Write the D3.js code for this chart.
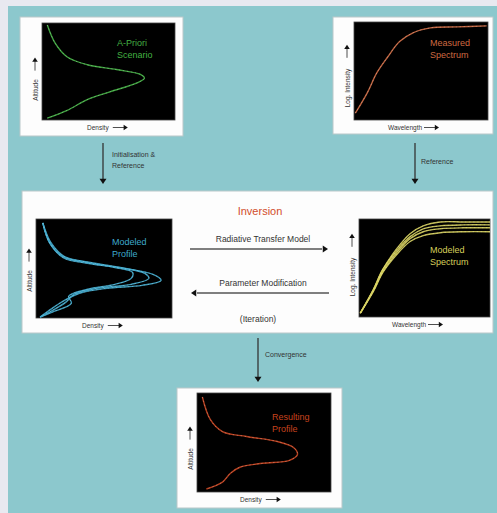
<!DOCTYPE html>
<html>
<head>
<meta charset="utf-8">
<script src="https://cdn.jsdelivr.net/npm/d3@7"></script>
<style>
  body { margin: 0; background: #e9eaf1; }
  svg { display: block; font-family: "Liberation Sans", Arial, sans-serif; }
</style>
</head>
<body>
<svg width="497" height="513"></svg>
<script>
var width = 497, height = 513;

// ---- data (normalised 0..1 on both axes) ----
var aprioriDensity  = [0.04, 0.10, 0.19, 0.34, 0.56, 0.74, 0.77, 0.71, 0.51, 0.34, 0.19, 0.04];
var aprioriAltitude = [0.98, 0.79, 0.65, 0.57, 0.52, 0.47, 0.43, 0.38, 0.29, 0.21, 0.10, 0.02];

var measuredWavelength = [0.01, 0.10, 0.17, 0.25, 0.34, 0.44, 0.57, 0.77, 0.99];
var measuredIntensity  = [0.07, 0.28, 0.48, 0.64, 0.80, 0.89, 0.94, 0.95, 0.96];

var modeledAltitude = [
  [0.96, 0.76, 0.62, 0.56, 0.51, 0.46, 0.40, 0.34, 0.29, 0.22, 0.15, 0.06, 0.01],
  [0.96, 0.76, 0.62, 0.56, 0.51, 0.45, 0.40, 0.34, 0.30, 0.24, 0.16, 0.06, 0.01],
  [0.96, 0.76, 0.61, 0.55, 0.50, 0.44, 0.38, 0.33, 0.30, 0.25, 0.17, 0.07, 0.01]
];
var modeledDensity = [
  [0.05, 0.10, 0.20, 0.38, 0.58, 0.71, 0.70, 0.58, 0.38, 0.24, 0.26, 0.12, 0.03],
  [0.05, 0.11, 0.21, 0.40, 0.62, 0.80, 0.83, 0.70, 0.45, 0.28, 0.22, 0.10, 0.03],
  [0.05, 0.10, 0.20, 0.39, 0.65, 0.86, 0.92, 0.78, 0.52, 0.32, 0.20, 0.09, 0.03]
];

var modeledWavelength = [0.01, 0.11, 0.18, 0.29, 0.39, 0.49, 0.62, 0.80, 1.00];
var modeledIntensity = [
  [0.04, 0.28, 0.48, 0.70, 0.85, 0.93, 0.97, 0.97, 0.97],
  [0.04, 0.28, 0.48, 0.68, 0.82, 0.90, 0.93, 0.94, 0.94],
  [0.04, 0.27, 0.46, 0.66, 0.80, 0.87, 0.90, 0.91, 0.91],
  [0.04, 0.26, 0.45, 0.64, 0.77, 0.83, 0.86, 0.87, 0.87]
];

var resultDensity  = [0.04, 0.10, 0.19, 0.37, 0.60, 0.72, 0.75, 0.69, 0.49, 0.32, 0.25, 0.19, 0.07];
var resultAltitude = [0.96, 0.73, 0.61, 0.56, 0.51, 0.45, 0.38, 0.32, 0.29, 0.25, 0.19, 0.10, 0.03];

var svg = d3.select("svg");

// background: light strips + teal panel
svg.append("rect").attr("width", width).attr("height", height).attr("fill", "#e8e9f0");
svg.append("rect").attr("x", 8).attr("y", 6).attr("width", width - 8).attr("height", height - 6)
  .attr("fill", "#8cc8cd");

function box(x0, y0, x1, y1) {
  svg.append("rect").attr("x", x0).attr("y", y0).attr("width", x1 - x0).attr("height", y1 - y0)
    .attr("fill", "#fdfdfd").attr("stroke", "#b9c7c9").attr("stroke-width", 1);
}

function arrowHead(g, x, y, dir, size) {
  // dir: "right" "left" "up" "down"
  var s = size || 4, pts;
  if (dir == "right") pts = [[x, y], [x - s * 1.5, y - s], [x - s * 1.5, y + s]];
  if (dir == "left")  pts = [[x, y], [x + s * 1.5, y - s], [x + s * 1.5, y + s]];
  if (dir == "up")    pts = [[x, y], [x - s, y + s * 1.5], [x + s, y + s * 1.5]];
  if (dir == "down")  pts = [[x, y], [x - s, y - s * 1.5], [x + s, y - s * 1.5]];
  g.append("path").attr("d", "M" + pts.join("L") + "Z").attr("fill", "#111");
}

function plot(p) {
  var g = svg.append("g");
  g.append("rect").attr("x", p.x0).attr("y", p.y0).attr("width", p.x1 - p.x0).attr("height", p.y1 - p.y0)
    .attr("fill", "#000").attr("stroke", "#444").attr("stroke-width", 0.8);

  var x = d3.scaleLinear().domain([0, 1]).range([p.x0, p.x1]);
  var y = d3.scaleLinear().domain([0, 1]).range([p.y1, p.y0]);

  var line = d3.line()
    .x(function(d) { return x(d[0]); })
    .y(function(d) { return y(d[1]); })
    .curve(d3.curveCatmullRom.alpha(0.5));

  p.series.forEach(function(s) {
    var pts = s.xs.map(function(v, i) { return [v, s.ys[i]]; });
    g.append("path").attr("d", line(pts)).attr("fill", "none")
      .attr("stroke", p.color).attr("stroke-width", 1.4).attr("stroke-opacity", 0.9);
    g.append("path").attr("d", line(pts)).attr("fill", "none")
      .attr("stroke", "#fff").attr("stroke-opacity", 0.35).attr("stroke-width", 0.7)
      .attr("stroke-dasharray", "1.5,2.5");
  });

  g.selectAll(".lbl").data(p.label).enter().append("text")
    .attr("x", p.labelX).attr("y", function(d, i) { return p.labelY + i * 12; })
    .attr("fill", p.color).attr("font-size", 9).text(function(d) { return d; });

  // x axis caption with arrow
  var xt = g.append("text").attr("x", p.xLabelX).attr("y", p.y1 + 10)
    .attr("font-size", 6.5).attr("fill", "#333").text(p.xLabel);
  var xe = p.xLabelX + p.xLabel.length * 3.4 + 2;
  g.append("line").attr("x1", xe).attr("x2", xe + 13).attr("y1", p.y1 + 7.5).attr("y2", p.y1 + 7.5)
    .attr("stroke", "#222").attr("stroke-width", 0.8);
  arrowHead(g, xe + 15, p.y1 + 7.5, "right", 2.8);

  // y axis caption with arrow
  var cx = p.x0 - 7;
  g.append("text").attr("transform", "translate(" + (cx + 2.5) + "," + p.yLabelY + ") rotate(-90)")
    .attr("text-anchor", "middle").attr("font-size", 6.5).attr("fill", "#333").text(p.yLabel);
  var ya = p.yLabelY - p.yLabel.length * 1.8 - 5;
  g.append("line").attr("x1", cx).attr("x2", cx).attr("y1", ya).attr("y2", ya - 10)
    .attr("stroke", "#222").attr("stroke-width", 0.8);
  arrowHead(g, cx, ya - 13, "up", 2.8);
}

function flowArrow(x, y0, y1) {
  svg.append("line").attr("x1", x).attr("x2", x).attr("y1", y0).attr("y2", y1 - 5)
    .attr("stroke", "#333").attr("stroke-width", 1.3);
  arrowHead(svg, x, y1, "down", 3.5);
}

function caption(x, y, lines, size, color, anchor) {
  svg.selectAll(null).data(lines).enter().append("text")
    .attr("x", x).attr("y", function(d, i) { return y + i * 11; })
    .attr("font-size", size).attr("fill", color || "#333")
    .attr("text-anchor", anchor || "start").text(function(d) { return d; });
}

// boxes
box(20, 17, 183, 136);
box(333, 17, 493, 134);
box(22, 191, 493, 333);
box(177, 388, 342, 508);

plot({ x0: 42, y0: 23, x1: 175, y1: 120, color: "#43b143",
  series: [{ xs: aprioriDensity, ys: aprioriAltitude }],
  label: ["A-Priori", "Scenario"], labelX: 117, labelY: 46,
  xLabel: "Density", xLabelX: 87, yLabel: "Altitude", yLabelY: 90 });

plot({ x0: 354, y0: 22, x1: 488, y1: 120, color: "#cf6a42",
  series: [{ xs: measuredWavelength, ys: measuredIntensity }],
  label: ["Measured", "Spectrum"], labelX: 430, labelY: 46,
  xLabel: "Wavelength", xLabelX: 388, yLabel: "Log. Intensity", yLabelY: 88 });

plot({ x0: 36, y0: 219, x1: 172, y1: 318, color: "#3ea9cc",
  series: modeledDensity.map(function(d, i) { return { xs: d, ys: modeledAltitude[i] }; }),
  label: ["Modeled", "Profile"], labelX: 112, labelY: 245,
  xLabel: "Density", xLabelX: 82, yLabel: "Altitude", yLabelY: 281 });

plot({ x0: 359, y0: 219, x1: 490, y1: 317, color: "#d6cf5a",
  series: modeledIntensity.map(function(d) { return { xs: modeledWavelength, ys: d }; }),
  label: ["Modeled", "Spectrum"], labelX: 430, labelY: 253,
  xLabel: "Wavelength", xLabelX: 392, yLabel: "Log. Intensity", yLabelY: 277 });

plot({ x0: 197, y0: 393, x1: 331, y1: 492, color: "#c8431e",
  series: [{ xs: resultDensity, ys: resultAltitude }],
  label: ["Resulting", "Profile"], labelX: 272, labelY: 420,
  xLabel: "Density", xLabelX: 240, yLabel: "Altitude", yLabelY: 459 });

// flow between boxes
flowArrow(103, 143, 184);
caption(112, 157, ["Initialisation &", "Reference"], 7);
flowArrow(415, 143, 184);
caption(421, 164, ["Reference"], 7);
flowArrow(258, 338, 382);
caption(265, 357, ["Convergence"], 7);

// inversion loop
caption(260, 215, ["Inversion"], 11, "#d24e2c", "middle");
caption(263, 242, ["Radiative Transfer Model"], 8.5, "#333", "middle");
svg.append("line").attr("x1", 190).attr("x2", 322).attr("y1", 249).attr("y2", 249)
  .attr("stroke", "#555").attr("stroke-width", 1.6);
arrowHead(svg, 328, 249, "right", 3.5);
caption(263, 286, ["Parameter Modification"], 8.5, "#333", "middle");
svg.append("line").attr("x1", 197).attr("x2", 329).attr("y1", 293).attr("y2", 293)
  .attr("stroke", "#555").attr("stroke-width", 1.6);
arrowHead(svg, 191, 293, "left", 3.5);
caption(258, 322, ["(Iteration)"], 8.5, "#333", "middle");
</script>
</body>
</html>
